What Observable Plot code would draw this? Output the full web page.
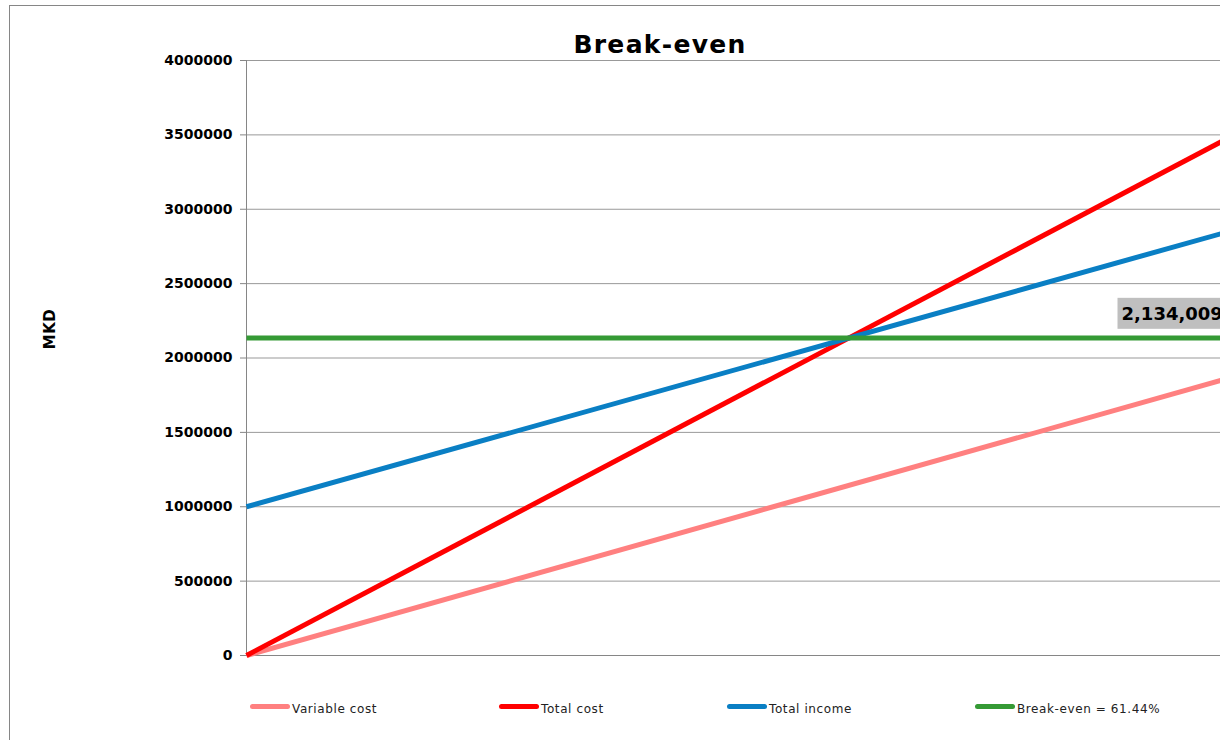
<!DOCTYPE html>
<html><head><meta charset="utf-8">
<script src="https://cdn.jsdelivr.net/npm/d3@7"></script>
<script src="https://cdn.jsdelivr.net/npm/@observablehq/plot@0.6"></script>
<style>
html,body{margin:0;padding:0;overflow:hidden;background:#fff;width:1220px;height:740px}
#wrap{position:relative;width:1220px;height:740px;overflow:hidden;font-family:"DejaVu Sans",sans-serif}
#border{position:absolute;left:9px;top:5px;width:1400px;height:900px;border:1px solid #868686;box-sizing:border-box}
#title{position:absolute;left:0;top:30px;width:1320px;text-align:center;font-weight:bold;font-size:25px;line-height:30px;letter-spacing:1.3px}
#ylab{position:absolute;left:50px;top:329px;transform:translate(-50%,-50%) rotate(-90deg);font-weight:bold;font-size:15px;white-space:nowrap;letter-spacing:0.5px}
#chart{position:absolute;left:0;top:0;width:1240px}
#chart svg{max-width:none !important}
.leg{position:absolute;top:700px;height:18px;display:flex;align-items:center;font-size:12px;white-space:nowrap;color:#222;letter-spacing:0.6px}
.sw{display:inline-block;width:40px;height:5px;border-radius:3px;margin-right:2px;position:relative;top:-3px}
</style></head>
<body><div id="wrap">
<div id="border"></div>
<div id="chart"></div>
<div id="title">Break-even</div>
<div id="ylab">MKD</div>
<div id="legend"></div>
</div>
<script>
// Data
const pct = [0, 100];
const seriesNames = ["Variable cost", "Total cost", "Total income", "Break-even = 61.44%"];
const seriesColors = ["#ff8080", "#ff0000", "#0a7fc4", "#359a35"];
const variableCost = [0, 1860000];
const totalCost = [0, 3473000];
const totalIncome = [1000000, 2846000];
const breakEven = [2134009, 2134009];
const breakEvenLabel = "2,134,009";
const yTicks = [0, 500000, 1000000, 1500000, 2000000, 2500000, 3000000, 3500000, 4000000];
const legendX = [250, 499, 727, 975];

const seriesValues = [variableCost, totalCost, totalIncome, breakEven];
const rows = [];
seriesNames.forEach((s, i) => pct.forEach((p, j) => rows.push({series: s, pct: p, value: seriesValues[i][j]})));

const chart = Plot.plot({
  width: 1240,
  height: 670,
  marginTop: 60,
  marginBottom: 15,
  marginLeft: 246,
  marginRight: 14,
  style: {fontFamily: "DejaVu Sans", background: "transparent", overflow: "visible", maxWidth: "none"},
  x: {domain: [0, 100], axis: null},
  y: {domain: [0, 4000000], axis: null},
  color: {domain: seriesNames, range: seriesColors},
  marks: [
    Plot.gridY(yTicks, {stroke: "#999999", strokeOpacity: 1, strokeWidth: 1}),
    Plot.ruleY([0], {stroke: "#868686", strokeWidth: 1}),
    Plot.ruleX([0], {stroke: "#868686", strokeWidth: 1}),
    Plot.axisY(yTicks, {
      tickFormat: d => String(d), tickSize: 6, tickPadding: 8,
      fontWeight: "bold", fontSize: 14, stroke: "#868686", fill: "#000", label: null
    }),
    Plot.line(rows, {x: "pct", y: "value", z: "series", stroke: "series", strokeWidth: 5, strokeLinecap: "butt"}),
    Plot.text([breakEvenLabel], {
      x: () => 100, y: () => breakEven[1], text: d => d,
      textAnchor: "start", dx: -105, dy: -24,
      fontWeight: "bold", fontSize: 18, fill: "#000"
    })
  ]
});
chart.setAttribute("width", 1240);
chart.style.maxWidth = "none";
document.getElementById("chart").appendChild(chart);

// gray background box behind data label
chart.querySelectorAll("text").forEach(t => {
  if (t.textContent === breakEvenLabel) {
    const b = t.getBBox();
    const r = document.createElementNS("http://www.w3.org/2000/svg", "rect");
    r.setAttribute("x", b.x - 4);
    r.setAttribute("y", b.y - 5);
    r.setAttribute("width", b.width + 8);
    r.setAttribute("height", b.height + 10);
    r.setAttribute("fill", "#bfbfbf");
    const tr = t.getAttribute("transform");
    if (tr) r.setAttribute("transform", tr);
    t.parentNode.insertBefore(r, t);
  }
});

// legend
const leg = document.getElementById("legend");
seriesNames.forEach((s, i) => {
  const d = document.createElement("div");
  d.className = "leg";
  d.style.left = legendX[i] + "px";
  d.innerHTML = `<span class="sw" style="background:${seriesColors[i]}"></span><span>${s}</span>`;
  leg.appendChild(d);
});
</script>
</body></html>
